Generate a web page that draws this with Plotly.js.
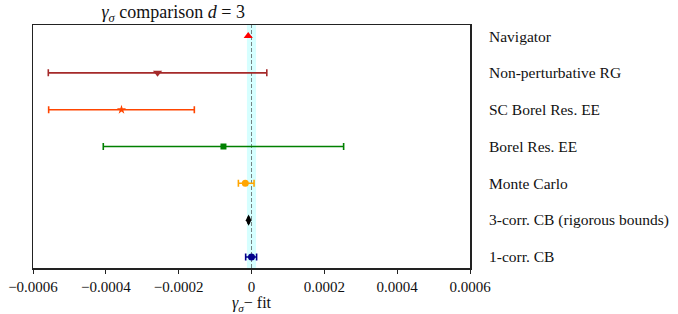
<!DOCTYPE html>
<html>
<head>
<meta charset="utf-8">
<script src="https://cdn.plot.ly/plotly-3.0.1.min.js"></script>
<style>html,body{margin:0;padding:0;background:#fff;}#chart{width:678px;height:314px;}</style>
</head>
<body>
<div id="chart"></div>
<script>
// Data (gamma_sigma minus fit)
const categories = ["1-corr. CB", "3-corr. CB (rigorous bounds)", "Monte Carlo", "Borel Res. EE", "SC Borel Res. EE", "Non-perturbative RG", "Navigator"];
const centers   = [0.0000000, -0.0000080, -0.0000170, -0.0000770, -0.0003570, -0.0002580, -0.0000090];
const errMinus  = [0.0000160,  0.0000010,  0.0000190,  0.0003300,  0.0002000,  0.0003000,  0.0000000];
const errPlus   = [0.0000140,  0.0000010,  0.0000240,  0.0003300,  0.0002000,  0.0003000,  0.0000000];
const fitCenter = 0.0;
const fitErr    = 0.0000125;
const xTickVals = [-0.0006, -0.0004, -0.0002, 0, 0.0002, 0.0004, 0.0006];
const xTickText = ["\u22120.0006", "\u22120.0004", "\u22120.0002", "0", "0.0002", "0.0004", "0.0006"];

// Styles
const colors  = ["#00008b", "#000000", "#ffa500", "#008000", "#ff4500", "#a52a2a", "#ff0000"];
const symbols = ["circle", "diamond-tall", "circle", "square", "star", "triangle-down", "triangle-up"];
const sizes   = [7, 8, 7, 6, 7, 8, 8];

const FONT = "Liberation Serif";
const TXT = "#111";

const traces = categories.map((c, i) => ({
  type: "scatter",
  mode: "markers",
  x: [centers[i]],
  y: [i],
  name: c,
  marker: {color: colors[i], symbol: symbols[i], size: sizes[i], line: {width: 0}},
  error_x: {type: "data", symmetric: false, array: [errPlus[i]], arrayminus: [errMinus[i]],
            color: colors[i], thickness: 1.6, width: 3.5, visible: errPlus[i] + errMinus[i] > 0},
  hoverinfo: "x+name"
}));

const annotations = categories.map((c, i) => ({
  xref: "paper", yref: "y", x: 1.04, y: i, text: c, showarrow: false,
  xanchor: "left", yanchor: "middle", font: {family: FONT, size: 15.5, color: TXT}
}));

const layout = {
  width: 678, height: 314,
  margin: {l: 33, r: 208, t: 25, b: 46},
  paper_bgcolor: "#fff", plot_bgcolor: "#fff",
  showlegend: false,
  font: {family: FONT, size: 15, color: TXT},
  title: {text: "<i>γ<sub>σ</sub></i> comparison <i>d</i> = 3", x: 0.2555, xanchor: "center",
          y: 0.962, yanchor: "middle", font: {family: FONT, size: 18, color: TXT}},
  xaxis: {
    range: [-0.0006, 0.0006], tickvals: xTickVals, ticktext: xTickText,
    ticks: "outside", ticklen: 4, tickwidth: 1, tickcolor: "#222",
    showline: true, linecolor: "#222", linewidth: 1.5, mirror: true,
    showgrid: false, zeroline: false,
    tickfont: {family: FONT, size: 15, color: TXT},
    title: {text: "<i>γ<sub>σ</sub></i>− fit", standoff: 1, font: {family: FONT, size: 16, color: TXT}}
  },
  yaxis: {
    range: [-0.3, 6.3], showticklabels: false, ticks: "",
    showline: true, linecolor: "#222", linewidth: 1.5, mirror: true,
    showgrid: false, zeroline: false
  },
  shapes: [
    {type: "rect", xref: "x", yref: "paper", x0: fitCenter - fitErr, x1: fitCenter + fitErr, y0: 0, y1: 1,
     fillcolor: "rgba(0,255,255,0.16)", line: {width: 0}, layer: "below"},
    {type: "line", xref: "x", yref: "paper", x0: fitCenter, x1: fitCenter, y0: 0, y1: 1,
     line: {color: "rgba(60,60,60,0.8)", width: 0.8, dash: "4px,2px"}, layer: "below"}
  ],
  annotations: annotations
};

Plotly.newPlot("chart", traces, layout, {displayModeBar: false, staticPlot: true});
</script>
</body>
</html>
